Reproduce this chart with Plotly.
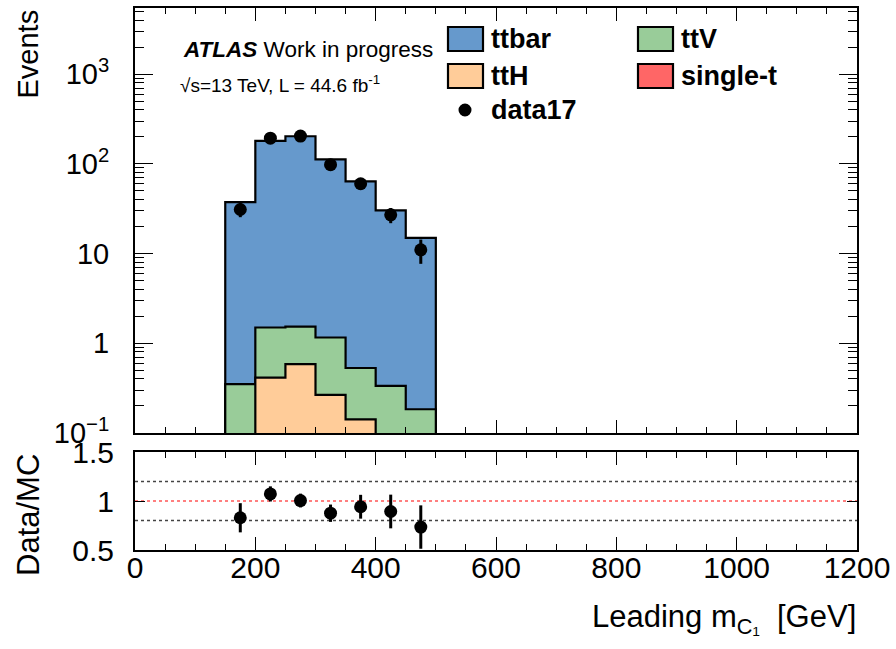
import numpy as np
import plotly.graph_objects as go

# ---------------- data ----------------
bin_edges = [150, 200, 250, 300, 350, 400, 450, 500]
ttbar = [37.05, 178.5, 201.5, 110.8, 63.2, 29.9, 14.8]
ttV = [0.35, 1.085, 0.944, 0.894, 0.388, 0.335, 0.184]
ttH = [0.0, 0.415, 0.586, 0.266, 0.142, 0.0, 0.0]
single_t = [0.0, 0.0, 0.0, 0.0, 0.0, 0.0, 0.0]
data17 = [31, 193, 204, 98, 60, 27, 11]

x_ticks = [0, 200, 400, 600, 800, 1000, 1200]
y_tickvals = [0.1, 1, 10, 100, 1000]
y_ticktext = ["10<sup>\u22121</sup>", "1", "10", "10<sup>2</sup>", "10<sup>3</sup>"]
r_tickvals = [0.5, 1, 1.5]
r_ticktext = ["0.5", "1", "1.5"]

colors = {"ttbar": "#6699cc", "ttV": "#99cc99", "ttH": "#ffcc99", "single-t": "#ff6666"}

# ---------------- geometry helpers ----------------
W, H = 896, 649
L, R, T, B = 135, 39, 8, 99
PW, PH = W - L - R, H - T - B
def px(p):
    return (p - L) / PW
def py(p):
    return (H - B - p) / PH

FONT = "Liberation Sans, Arial, Helvetica, sans-serif"
FLOOR = 1e-3

edges = np.array(bin_edges, dtype=float)
centers = 0.5 * (edges[:-1] + edges[1:])
ttH_a = np.array(ttH)
ttV_a = np.array(ttV)
st_a = np.array(single_t)
tt_a = np.array(ttbar)
data_a = np.array(data17, dtype=float)

c1 = ttH_a
c2 = c1 + ttV_a
c3 = c2 + st_a
c4 = c3 + tt_a
mc_total = c4

def step_poly(vals):
    xs, ys = [edges[0]], [FLOOR]
    for i, v in enumerate(vals):
        v = v if v > 0 else FLOOR
        xs += [edges[i], edges[i + 1]]
        ys += [v, v]
    xs.append(edges[-1]); ys.append(FLOOR)
    xs.append(edges[0]); ys.append(FLOOR)
    return xs, ys

fig = go.Figure()

for vals, name in [(c4, "ttbar"), (c3, "single-t"), (c2, "ttV"), (c1, "ttH")]:
    if name == "single-t" and np.allclose(st_a, 0):
        continue
    xs, ys = step_poly(vals)
    fig.add_trace(go.Scatter(x=xs, y=ys, mode="lines", fill="toself",
                             fillcolor=colors[name], line=dict(color="black", width=2.2),
                             name=name, showlegend=False, xaxis="x", yaxis="y",
                             hoverinfo="skip"))

fig.add_trace(go.Scatter(x=centers, y=data_a, mode="markers", name="data17",
                         marker=dict(color="black", size=13),
                         error_y=dict(type="data", array=np.sqrt(data_a), thickness=3,
                                      width=0, color="black"),
                         showlegend=False, xaxis="x", yaxis="y"))

ratio = data_a / mc_total
ratio_err = np.sqrt(data_a) / mc_total
fig.add_trace(go.Scatter(x=centers, y=ratio, mode="markers", name="ratio",
                         marker=dict(color="black", size=13),
                         error_y=dict(type="data", array=ratio_err, thickness=3,
                                      width=0, color="black"),
                         showlegend=False, xaxis="x2", yaxis="y2"))

# reference lines in ratio pad
shapes = []
for yv, col in [(1.2, "#444444"), (0.8, "#444444"), (1.0, "red")]:
    shapes.append(dict(type="line", xref="x2", yref="y2", x0=0, x1=1200, y0=yv, y1=yv,
                       line=dict(color=col, width=1.5 if col != "red" else 1.2, dash="dot"),
                       layer="below"))

axis_common = dict(showline=True, linecolor="black", linewidth=2, mirror="allticks",
                   ticks="inside", tickcolor="black", showgrid=False, zeroline=False,
                   automargin=False)

fig.update_layout(
    template="none",
    width=W, height=H,
    margin=dict(l=L, r=R, t=T, b=B, pad=0, autoexpand=False),
    paper_bgcolor="white", plot_bgcolor="white",
    font=dict(family=FONT, color="black"),
    xaxis=dict(domain=[0, 1], range=[0, 1200], anchor="y", tickvals=x_ticks,
               showticklabels=False, ticklen=13, tickwidth=1.2,
               minor=dict(dtick=50, tick0=0, ticklen=6, ticks="inside", tickcolor="black"),
               **axis_common),
    yaxis=dict(domain=[py(433), 1], type="log", range=[-1, 3.737], anchor="x",
               tickvals=y_tickvals, ticktext=y_ticktext, ticklen=18, tickwidth=1.2,
               tickfont=dict(size=29, family=FONT), ticklabelstandoff=18,
               minor=dict(dtick="D1", ticklen=9, ticks="inside", tickcolor="black"),
               **axis_common),
    xaxis2=dict(domain=[0, 1], range=[0, 1200], anchor="y2", tickvals=x_ticks,
                ticktext=[str(v) for v in x_ticks], ticklen=13, tickwidth=1.2,
                tickfont=dict(size=30, family=FONT), ticklabelstandoff=-10,
                minor=dict(dtick=50, tick0=0, ticklen=6, ticks="inside", tickcolor="black"),
                **axis_common),
    yaxis2=dict(domain=[0, py(452)], range=[0.5, 1.5], anchor="x2",
                tickvals=r_tickvals, ticktext=r_ticktext, ticklen=10, tickwidth=1.2,
                tickfont=dict(size=30, family=FONT), ticklabelstandoff=13,
                **axis_common),
    shapes=shapes,
    showlegend=False,
)

ann = []
# axis titles
ann.append(dict(text="Events", xref="paper", yref="paper", x=px(27), y=py(8),
                xanchor="center", yanchor="top", textangle=-90, showarrow=False,
                font=dict(size=29, family=FONT)))
ann.append(dict(text="Data/MC", xref="paper", yref="paper", x=px(28), y=py(515),
                xanchor="center", yanchor="middle", textangle=-90, showarrow=False,
                font=dict(size=31, family=FONT)))
ann.append(dict(text="Leading m<sub>C\u2081</sub>  [GeV]", xref="paper", yref="paper",
                x=px(858), y=py(619), xanchor="right", yanchor="middle", showarrow=False,
                font=dict(size=31, family=FONT)))
# ATLAS label
ann.append(dict(text="<b><i>ATLAS</i></b> Work in progress", xref="paper", yref="paper",
                x=px(181), y=py(50), xanchor="left", yanchor="middle", showarrow=False,
                font=dict(size=22.5, family=FONT)))
ann.append(dict(text="\u221as=13 TeV, L = 44.6 fb<sup>-1</sup>", xref="paper", yref="paper",
                x=px(178), y=py(84), xanchor="left", yanchor="middle", showarrow=False,
                font=dict(size=19, family=FONT)))

# manual legend
leg_items = [("ttbar", 448, 39), ("ttV", 638, 39), ("ttH", 448, 76), ("single-t", 638, 76)]
for name, x0, yc in leg_items:
    fig.add_shape(type="rect", xref="paper", yref="paper",
                  x0=px(x0), x1=px(x0 + 35), y0=py(yc + 12), y1=py(yc - 12),
                  fillcolor=colors[name], line=dict(color="black", width=2.2))
    ann.append(dict(text="<b>%s</b>" % name, xref="paper", yref="paper",
                    x=px(x0 + 41), y=py(yc), xanchor="left", yanchor="middle",
                    showarrow=False, font=dict(size=27, family=FONT)))
r = 6.5
fig.add_shape(type="circle", xref="paper", yref="paper",
              x0=px(465 - r), x1=px(465 + r), y0=py(110 + r), y1=py(110 - r),
              fillcolor="black", line=dict(color="black", width=0))
ann.append(dict(text="<b>data17</b>", xref="paper", yref="paper",
                x=px(489), y=py(110), xanchor="left", yanchor="middle",
                showarrow=False, font=dict(size=27, family=FONT)))
fig.update_layout(annotations=ann)

fig.write_html("out.html")
